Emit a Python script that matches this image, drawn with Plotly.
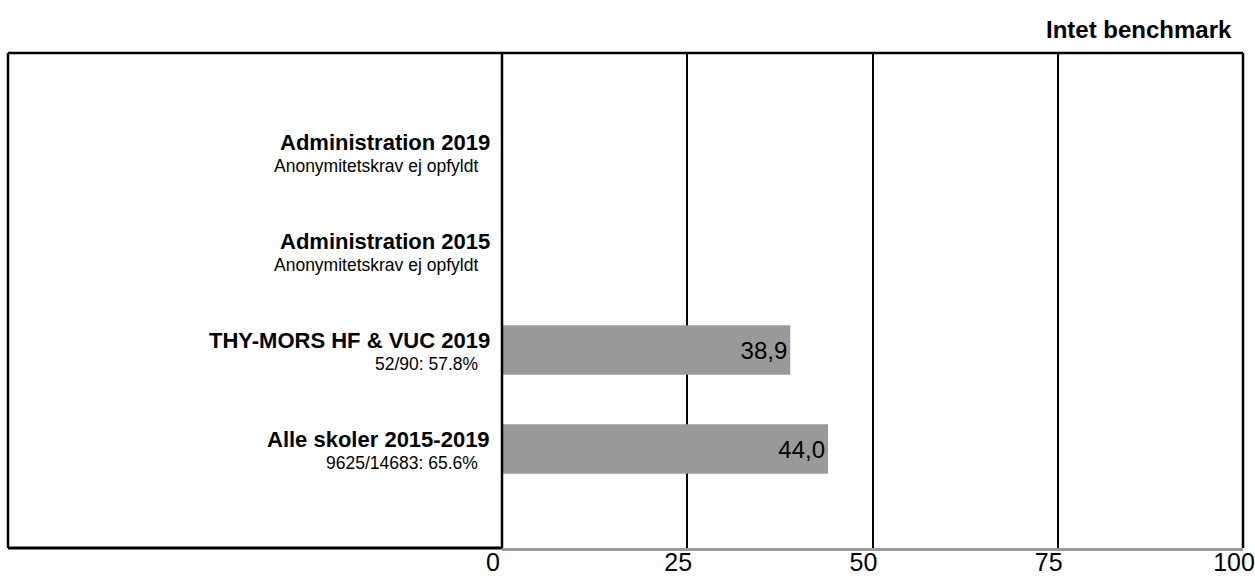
import plotly.graph_objects as go

# Data
categories = ["Alle skoler 2015-2019", "THY-MORS HF & VUC 2019", "Administration 2015", "Administration 2019"]
sublabels = ["9625/14683: 65.6%", "52/90: 57.8%", "Anonymitetskrav ej opfyldt", "Anonymitetskrav ej opfyldt"]
values = [44.0, 38.9, None, None]
x_ticks = [0, 25, 50, 75, 100]
corner_label = "Intet benchmark"

FONT = "Arial, Liberation Sans, Helvetica, sans-serif"

fig = go.Figure()
fig.add_trace(go.Bar(
    y=categories, x=values, orientation="h",
    marker=dict(color="#999999", line=dict(width=0)),
    width=0.5,
    texttemplate="%{x:.1f}",
    textposition="inside", insidetextanchor="end", textangle=0,
    constraintext="none",
    textfont=dict(family=FONT, size=24, color="#000000"),
    hoverinfo="skip", showlegend=False,
))

annotations = []
for cat, sub in zip(categories, sublabels):
    annotations.append(dict(
        x=0.4, xref="paper", y=cat, yref="y", xanchor="right", yanchor="middle",
        text="<b>" + cat + "</b>", showarrow=False, xshift=-10, yshift=10,
        font=dict(family=FONT, size=22, color="#000000")))
    annotations.append(dict(
        x=0.4, xref="paper", y=cat, yref="y", xanchor="right", yanchor="middle",
        text=sub, showarrow=False, xshift=-22, yshift=-14,
        font=dict(family=FONT, size=17.5, color="#000000")))
annotations.append(dict(
    x=1, xref="paper", y=1, yref="paper", xanchor="right", yanchor="middle",
    text="<b>" + corner_label + "</b>", showarrow=False, xshift=-9, yshift=24,
    font=dict(family=FONT, size=24, color="#000000")))

shapes = [
    dict(type="line", xref="paper", yref="paper", x0=0, x1=1, y0=1, y1=1,
         line=dict(color="#000000", width=2.5)),
    dict(type="line", xref="paper", yref="paper", x0=0, x1=0, y0=0, y1=1,
         line=dict(color="#000000", width=2.5)),
    dict(type="line", xref="paper", yref="paper", x0=0, x1=0.4, y0=0, y1=0,
         line=dict(color="#000000", width=3)),
    dict(type="line", xref="paper", yref="paper", x0=1, x1=1, y0=0, y1=1,
         line=dict(color="#000000", width=2.5)),
    dict(type="line", xref="paper", yref="paper", x0=0.4, x1=0.4, y0=0, y1=1,
         line=dict(color="#000000", width=2.5)),
]

fig.update_layout(
    width=1255, height=579,
    margin=dict(l=8, r=12, t=53, b=31, pad=0, autoexpand=False),
    paper_bgcolor="#ffffff", plot_bgcolor="#ffffff",
    separators=",.",
    font=dict(family=FONT, color="#000000"),
    xaxis=dict(domain=[0.4, 1], range=[0, 100], tickvals=x_ticks,
               showgrid=True, gridcolor="#000000", gridwidth=2,
               zeroline=False, showline=True, linecolor="#999999", linewidth=3,
               ticks="", ticklen=0, ticklabelshift=-9, ticklabelstandoff=-10,
               tickfont=dict(family=FONT, size=25, color="#000000"),
               automargin=False, fixedrange=True),
    yaxis=dict(type="category", categoryorder="array", categoryarray=categories,
               range=[-1, 4], showticklabels=False, showgrid=False, zeroline=False,
               showline=False, ticks="", automargin=False, fixedrange=True),
    annotations=annotations, shapes=shapes, bargap=0.5,
)

fig.write_html("out.html", post_script="document.body.style.margin='0';",
               config={"displayModeBar": False})
